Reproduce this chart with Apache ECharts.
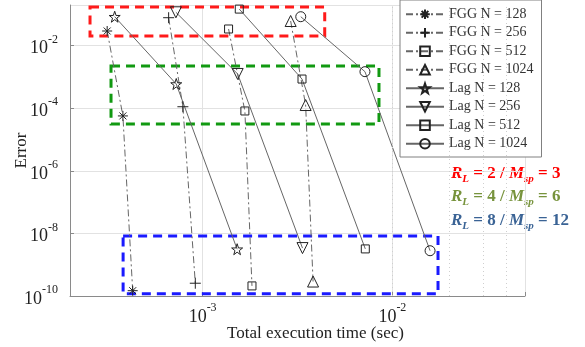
<!DOCTYPE html>
<html><head><meta charset="utf-8">
<script src="https://cdn.jsdelivr.net/npm/echarts@6/dist/echarts.min.js"></script>
<style>html,body{margin:0;padding:0;background:#fff}#c{width:585px;height:347px}</style>
</head><body><div id="c"></div>
<script>
// ---- data ----
const seriesNames = ['FGG N = 128','FGG N = 256','FGG N = 512','FGG N = 1024','Lag N = 128','Lag N = 256','Lag N = 512','Lag N = 1024'];
const fgg128X = [3.14e-4, 3.8e-4, 4.28e-4];  const fgg128Y = [2.95e-2, 5.7e-5, 1.48e-10];
const fgg256X = [6.62e-4, 7.87e-4, 9.15e-4]; const fgg256Y = [7.85e-2, 1.12e-4, 2.56e-10];
const fgg512X = [1.37e-3, 1.67e-3, 1.82e-3]; const fgg512Y = [3.42e-2, 8.2e-5, 2.1e-10];
const fgg1024X = [2.91e-3, 3.49e-3, 3.82e-3]; const fgg1024Y = [6.16e-2, 1.27e-4, 2.9e-10];
const lag128X = [3.44e-4, 7.26e-4, 1.52e-3]; const lag128Y = [8.45e-2, 5.97e-4, 3.13e-9];
const lag256X = [7.23e-4, 1.53e-3, 3.36e-3]; const lag256Y = [0.117, 1.25e-3, 3.4e-9];
const lag512X = [1.56e-3, 3.34e-3, 7.2e-3];  const lag512Y = [0.148, 8.6e-4, 3.2e-9];
const lag1024X = [3.29e-3, 7.17e-3, 1.58e-2]; const lag1024Y = [8.45e-2, 1.48e-3, 2.8e-9];
const xRange = [2e-4, 5e-2];
const yRange = [1e-10, 0.2];
const xMinorGrid = [3e-4,4e-4,5e-4,6e-4,7e-4,8e-4,9e-4,2e-3,3e-3,4e-3,5e-3,6e-3,7e-3,8e-3,9e-3,2e-2,3e-2,4e-2];
const boxRed = [[2.55e-4, 0.172], [4.4e-3, 2.04e-2]];
const boxGreen = [[3.29e-4, 2.25e-3], [8.5e-3, 3.16e-5]];
const boxBlue = [[3.81e-4, 8.3e-9], [1.74e-2, 1.17e-10]];
const noteLines = [['2','3'], ['4','6'], ['8','12']];
const noteColors = ['#ff0000', '#77933c', '#3a6395'];

// ---- styling ----
const SERIF = 'Liberation Serif';
const SYM = {
  asterisk: 'path://M5,0L5,10M0,5L10,5M1.5,1.5L8.5,8.5M1.5,8.5L8.5,1.5',
  plus: 'path://M5,0L5,10M0,5L10,5',
  square: 'rect',
  triUp: 'path://M5,0L10,9L0,9Z',
  star: 'path://M50,0L61.8,35.1L98.1,35.1L68.8,56.8L79.4,90.5L50,69.6L20.6,90.5L31.2,56.8L1.9,35.1L38.2,35.1Z',
  triDown: 'path://M0,0L10,0L5,9Z',
  circle: 'circle'
};
const specs = [
  [fgg128X, fgg128Y, SYM.asterisk, 10, true],
  [fgg256X, fgg256Y, SYM.plus, 11, true],
  [fgg512X, fgg512Y, SYM.square, 8, true],
  [fgg1024X, fgg1024Y, SYM.triUp, 11, true],
  [lag128X, lag128Y, SYM.star, 11, false],
  [lag256X, lag256Y, SYM.triDown, 11, false],
  [lag512X, lag512Y, SYM.square, 8, false],
  [lag1024X, lag1024Y, SYM.circle, 10, false]
];
const series = specs.map((s, i) => ({
  name: seriesNames[i], type: 'line',
  data: s[0].map((x, k) => [x, s[1][k]]),
  symbol: s[2], symbolSize: s[3],
  lineStyle: { color: '#666', width: 1, type: s[4] ? [7, 3, 2, 3] : 'solid' },
  itemStyle: { color: 'none', borderColor: '#222', borderWidth: 1 },
  emphasis: { disabled: true }, z: 3
}));
const boxStyle = c => ({ color: 'rgba(0,0,0,0)', borderColor: c, borderWidth: 3, borderType: [9, 6] });
series.push({
  name: 'boxes', type: 'line', data: [], silent: true, z: 2,
  markArea: {
    silent: true,
    data: [
      [{ coord: boxRed[0], itemStyle: boxStyle('#ff1a1a') }, { coord: boxRed[1] }],
      [{ coord: boxGreen[0], itemStyle: boxStyle('#119911') }, { coord: boxGreen[1] }],
      [{ coord: boxBlue[0], itemStyle: boxStyle('#1a1aff') }, { coord: boxBlue[1] }]
    ]
  },
  markLine: {
    silent: true, symbol: 'none', label: { show: false },
    lineStyle: { color: '#cfcfcf', width: 1, type: [1, 3] },
    data: xMinorGrid.map(v => ({ xAxis: v }))
  }
});

function isMajor(v) { const e = v > 0 ? Math.log10(v) : v; return Math.abs(e - Math.round(e)) < 1e-6; }
function powLabel(v) {
  if (!isMajor(v)) return '';
  const e = Math.round(Math.log10(v));
  return '{b|10}{s|' + e + '}';
}
const labelRich = {
  b: { fontFamily: SERIF, fontSize: 18, color: '#222', verticalAlign: 'bottom', lineHeight: 24 },
  s: { fontFamily: SERIF, fontSize: 12, color: '#222', verticalAlign: 'top', lineHeight: 24 }
};

const noteGraphics = noteLines.map((n, i) => ({
  type: 'text', left: 451, top: 165 + i * 23.5,
  style: {
    text: '{i|R}{sub|L}{n| = ' + n[0] + ' / }{i|M}{sub|sp}{n| = ' + n[1] + '}',
    rich: {
      i: { fontFamily: SERIF, fontSize: 17, fontWeight: 'bold', fontStyle: 'italic', fill: noteColors[i], verticalAlign: 'middle', lineHeight: 22 },
      sub: { fontFamily: SERIF, fontSize: 11, fontWeight: 'bold', fontStyle: 'italic', fill: noteColors[i], verticalAlign: 'bottom', lineHeight: 22 },
      n: { fontFamily: SERIF, fontSize: 17, fontWeight: 'bold', fill: noteColors[i], verticalAlign: 'middle', lineHeight: 22 }
    }
  }
}));

const chart = echarts.init(document.getElementById('c'), null, { renderer: 'canvas' });
chart.setOption({
  animation: false,
  backgroundColor: '#fff',
  grid: { left: 70, right: 60, top: 5, bottom: 51, containLabel: false, outerBoundsMode: 'none' },
  xAxis: {
    type: 'log', logBase: 10, min: xRange[0], max: xRange[1],
    name: 'Total execution time (sec)', nameLocation: 'middle', nameGap: 29, nameMoveOverlap: false,
    nameTextStyle: { fontFamily: SERIF, fontSize: 17, color: '#222', padding: [0, 0, 0, 36] },
    axisLine: { lineStyle: { color: '#8a8a8a', width: 1 } },
    axisTick: { inside: true, length: 4, lineStyle: { color: '#8a8a8a' }, interval: (i, v) => isMajor(v) },
    axisLabel: { formatter: powLabel, rich: labelRich, margin: 6, interval: 0 },
    splitLine: { show: true, lineStyle: { color: '#e2e2e2', width: 1 }, interval: (i, v) => isMajor(v) }
  },
  yAxis: {
    type: 'log', logBase: 10, min: yRange[0], max: yRange[1], interval: 2,
    name: 'Error', nameLocation: 'middle', nameGap: 40, nameMoveOverlap: false,
    nameTextStyle: { fontFamily: SERIF, fontSize: 17, color: '#222' },
    axisLine: { show: true, lineStyle: { color: '#8a8a8a', width: 1 } },
    axisTick: { show: true, inside: true, length: 4, lineStyle: { color: '#8a8a8a' } },
    axisLabel: { formatter: powLabel, rich: labelRich, margin: 12, showMaxLabel: false },
    splitLine: { show: true, lineStyle: { color: '#e2e2e2', width: 1 }, interval: (i, v) => isMajor(v) }
  },
  legend: {
    data: seriesNames, orient: 'vertical', left: 400, top: 0,
    padding: [6, 8, 5, 5], itemGap: 2, itemWidth: 38, itemHeight: 12,
    backgroundColor: '#fff', borderColor: '#808080', borderWidth: 1,
    textStyle: { fontFamily: SERIF, fontSize: 14, lineHeight: 16.5, color: '#333' },
    selectedMode: false
  },
  graphic: noteGraphics,
  series: series
});
</script></body></html>
